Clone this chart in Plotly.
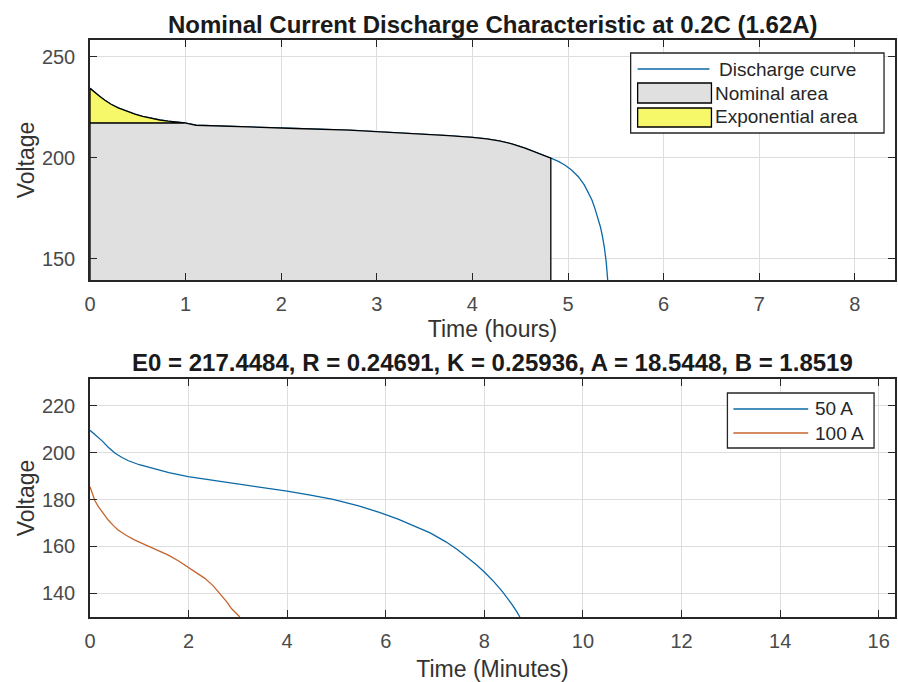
import plotly.graph_objects as go

# ---------------- data ----------------
# Top: nominal current discharge characteristic (time in hours, voltage)
t_hours = [0.0, 0.05, 0.1, 0.156, 0.22, 0.295, 0.38, 0.47, 0.55, 0.643, 0.73,
           0.816, 0.9, 0.99, 1.11, 1.55, 2.15, 2.71, 3.09, 3.61, 3.75, 4.0,
           4.15, 4.28, 4.42, 4.55, 4.68, 4.82, 4.9, 4.97, 5.04, 5.11, 5.17,
           5.21, 5.25, 5.28, 5.31, 5.34, 5.36, 5.38, 5.40, 5.415]
v_hours = [234.5, 232.3, 230.5, 228.6, 226.6, 224.8, 223.1, 221.7, 220.6, 219.5,
           218.8, 218.2, 217.7, 217.4, 216.2, 215.4, 214.6, 213.8, 212.9, 211.6,
           211.1, 210.2, 209.5, 208.5, 206.9, 204.9, 202.6, 199.9, 198.3, 196.4,
           193.9, 190.6, 186.7, 183.3, 179.2, 175.2, 170.7, 165.7, 161.2, 155.8,
           148.2, 139.6]
V_EXP = 217.4      # end of exponential zone (voltage)
T_NOM = 4.82       # end of nominal zone (hours)

# Bottom: discharge at 50 A and 100 A (time in minutes)
t_50 = [0.0, 0.1, 0.24, 0.37, 0.51, 0.65, 0.78, 1.0, 1.25, 1.6, 1.99, 2.35,
        2.73, 3.1, 3.54, 4.0, 4.5, 4.93, 5.45, 5.87, 6.25, 6.54, 6.9, 7.22,
        7.45, 7.63, 7.85, 8.03, 8.2, 8.37, 8.48, 8.57, 8.65, 8.72]
v_50 = [209.6, 207.8, 205.2, 202.4, 199.8, 198.0, 196.6, 194.9, 193.4, 191.5,
        189.8, 188.7, 187.7, 186.5, 185.2, 183.6, 181.8, 180.1, 177.3, 174.6,
        171.7, 169.1, 165.8, 162.0, 158.7, 155.7, 152.0, 148.5, 144.8, 140.6,
        137.7, 135.0, 132.4, 129.9]
t_100 = [0.0, 0.05, 0.1, 0.17, 0.27, 0.37, 0.47, 0.57, 0.74, 0.91, 1.08, 1.25,
         1.42, 1.59, 1.79, 1.99, 2.16, 2.33, 2.5, 2.67, 2.77, 2.87, 2.96, 3.04]
v_100 = [185.5, 182.0, 179.5, 177.0, 174.0, 171.3, 169.0, 167.0, 164.7, 162.7,
         161.1, 159.6, 158.0, 156.3, 153.9, 151.1, 148.9, 146.4, 143.2, 139.2,
         136.5, 133.5, 131.5, 129.9]

top_title = "Nominal Current Discharge Characteristic at 0.2C (1.62A)"
bot_title = "E0 = 217.4484, R = 0.24691, K = 0.25936, A = 18.5448, B = 1.8519"
top_xr = [0, 8.42]
top_yr = [139.6, 258.4]
bot_xr = [0, 16.33]
bot_yr = [129.9, 231.5]

# ---------------- styling ----------------
FONT = "Liberation Sans, Arial, sans-serif"
BLUE = "#0b68a6"
ORANGE = "#c4642c"
GRAY_FILL = "#e0e0e0"
YELLOW = "#f7f76a"
AX = "#262626"
TICKC = "#4a4a4a"
GRID = "#dedede"

W, H = 898, 682
ML, MR, MT, MB = 90, 1, 40, 65
PW, PH = W - ML - MR, H - MT - MB


def px(x):
    return (x - ML) / PW


def py(y):
    return (H - MB - y) / PH


fig = go.Figure()

# Discharge curve (blue)
fig.add_trace(go.Scatter(x=t_hours, y=v_hours, mode="lines",
                         line=dict(color=BLUE, width=1.3),
                         xaxis="x", yaxis="y", showlegend=False,
                         name="Discharge curve"))

# Nominal area polygon
base = top_yr[0]
nx, ny = [0.0, 0.0], [base, V_EXP]
for t, v in zip(t_hours, v_hours):
    if t <= T_NOM:
        nx.append(t)
        ny.append(min(v, V_EXP))
nx += [T_NOM, T_NOM]
ny += [ny[-1], base]
fig.add_trace(go.Scatter(x=nx, y=ny, mode="lines", fill="toself",
                         fillcolor=GRAY_FILL, line=dict(color="black", width=1.3),
                         xaxis="x", yaxis="y", showlegend=False,
                         name="Nominal area"))

# Exponential area polygon
ex, ey = [], []
for t, v in zip(t_hours, v_hours):
    if v >= V_EXP:
        ex.append(t)
        ey.append(v)
ex += [ex[-1], 0.0, 0.0]
ey += [V_EXP, V_EXP, ey[0]]
fig.add_trace(go.Scatter(x=ex, y=ey, mode="lines", fill="toself",
                         fillcolor=YELLOW, line=dict(color="black", width=1.3),
                         xaxis="x", yaxis="y", showlegend=False,
                         name="Exponential area"))

# Bottom curves
fig.add_trace(go.Scatter(x=t_50, y=v_50, mode="lines",
                         line=dict(color=BLUE, width=1.3),
                         xaxis="x2", yaxis="y2", showlegend=False, name="50 A"))
fig.add_trace(go.Scatter(x=t_100, y=v_100, mode="lines",
                         line=dict(color=ORANGE, width=1.3),
                         xaxis="x2", yaxis="y2", showlegend=False, name="100 A"))

axis_common = dict(showline=True, linecolor=AX, linewidth=1.5, mirror="ticks",
                   ticks="inside", ticklen=7, tickwidth=1, tickcolor=AX,
                   showgrid=True, gridcolor=GRID, gridwidth=1, zeroline=False,
                   tickfont=dict(family=FONT, size=20, color=TICKC))
title_font = dict(family=FONT, size=23, color="#333333")

top_dom = [py(280), 1.0]
bot_dom = [0.0, py(379)]

fig.update_layout(
    width=W, height=H,
    margin=dict(l=ML, r=MR, t=MT, b=MB),
    paper_bgcolor="white", plot_bgcolor="white",
    showlegend=False,
    xaxis=dict(domain=[0, 1], range=top_xr, anchor="y", dtick=1,
               ticklabelstandoff=5,
               title=dict(text="Time (hours)", standoff=7, font=title_font),
               **axis_common),
    yaxis=dict(domain=top_dom, range=top_yr, anchor="x", tickvals=[150, 200, 250],
               ticklabelstandoff=9,
               title=dict(text="Voltage", standoff=1, font=title_font),
               **axis_common),
    xaxis2=dict(domain=[0, 1], range=bot_xr, anchor="y2", dtick=2,
                ticklabelstandoff=5,
                title=dict(text="Time (Minutes)", standoff=10, font=title_font),
                **axis_common),
    yaxis2=dict(domain=bot_dom, range=bot_yr, anchor="x2", dtick=20,
                ticklabelstandoff=9,
                title=dict(text="Voltage", standoff=1, font=title_font),
                **axis_common),
)

ann = []
shapes = []
# Titles
ann.append(dict(text="<b>%s</b>" % top_title, x=0.5, y=py(24), xref="paper",
                yref="paper", showarrow=False, xanchor="center", yanchor="middle",
                font=dict(family=FONT, size=24, color="#1a1a1a")))
ann.append(dict(text="<b>%s</b>" % bot_title, x=0.5, y=py(363), xref="paper",
                yref="paper", showarrow=False, xanchor="center", yanchor="middle",
                font=dict(family=FONT, size=24, color="#1a1a1a")))

# Top legend (custom, MATLAB-style wide patches)
shapes.append(dict(type="rect", xref="paper", yref="paper",
                   x0=px(632), x1=px(886), y0=py(133), y1=py(53),
                   line=dict(color=AX, width=1.3), fillcolor="white", layer="above"))
shapes.append(dict(type="line", xref="paper", yref="paper",
                   x0=px(639), x1=px(711), y0=py(69), y1=py(69),
                   line=dict(color=BLUE, width=1.3), layer="above"))
shapes.append(dict(type="rect", xref="paper", yref="paper",
                   x0=px(639), x1=px(713), y0=py(103), y1=py(83),
                   line=dict(color="black", width=1.3), fillcolor=GRAY_FILL, layer="above"))
shapes.append(dict(type="rect", xref="paper", yref="paper",
                   x0=px(639), x1=px(713), y0=py(127), y1=py(108),
                   line=dict(color="black", width=1.3), fillcolor=YELLOW, layer="above"))
for label, yy, xx in [("Discharge curve", 69, 719), ("Nominal area", 93, 715),
                      ("Exponential area", 117, 715)]:
    ann.append(dict(text=label, x=px(xx), y=py(yy), xref="paper", yref="paper",
                    showarrow=False, xanchor="left", yanchor="middle",
                    font=dict(family=FONT, size=19, color="#262626")))

# Bottom legend
shapes.append(dict(type="rect", xref="paper", yref="paper",
                   x0=px(729), x1=px(876), y0=py(448), y1=py(393),
                   line=dict(color=AX, width=1.3), fillcolor="white", layer="above"))
for label, yy, col in [("50 A", 409, BLUE), ("100 A", 433, ORANGE)]:
    shapes.append(dict(type="line", xref="paper", yref="paper",
                       x0=px(735), x1=px(810), y0=py(yy), y1=py(yy),
                       line=dict(color=col, width=1.3), layer="above"))
    ann.append(dict(text=label, x=px(815), y=py(yy), xref="paper", yref="paper",
                    showarrow=False, xanchor="left", yanchor="middle",
                    font=dict(family=FONT, size=19, color="#262626")))

fig.update_layout(annotations=ann, shapes=shapes)
fig.write_html(
    "out.html",
    config={"displayModeBar": False},
    post_script="document.body.style.margin='0';"
                "document.documentElement.style.overflow='hidden';",
)
